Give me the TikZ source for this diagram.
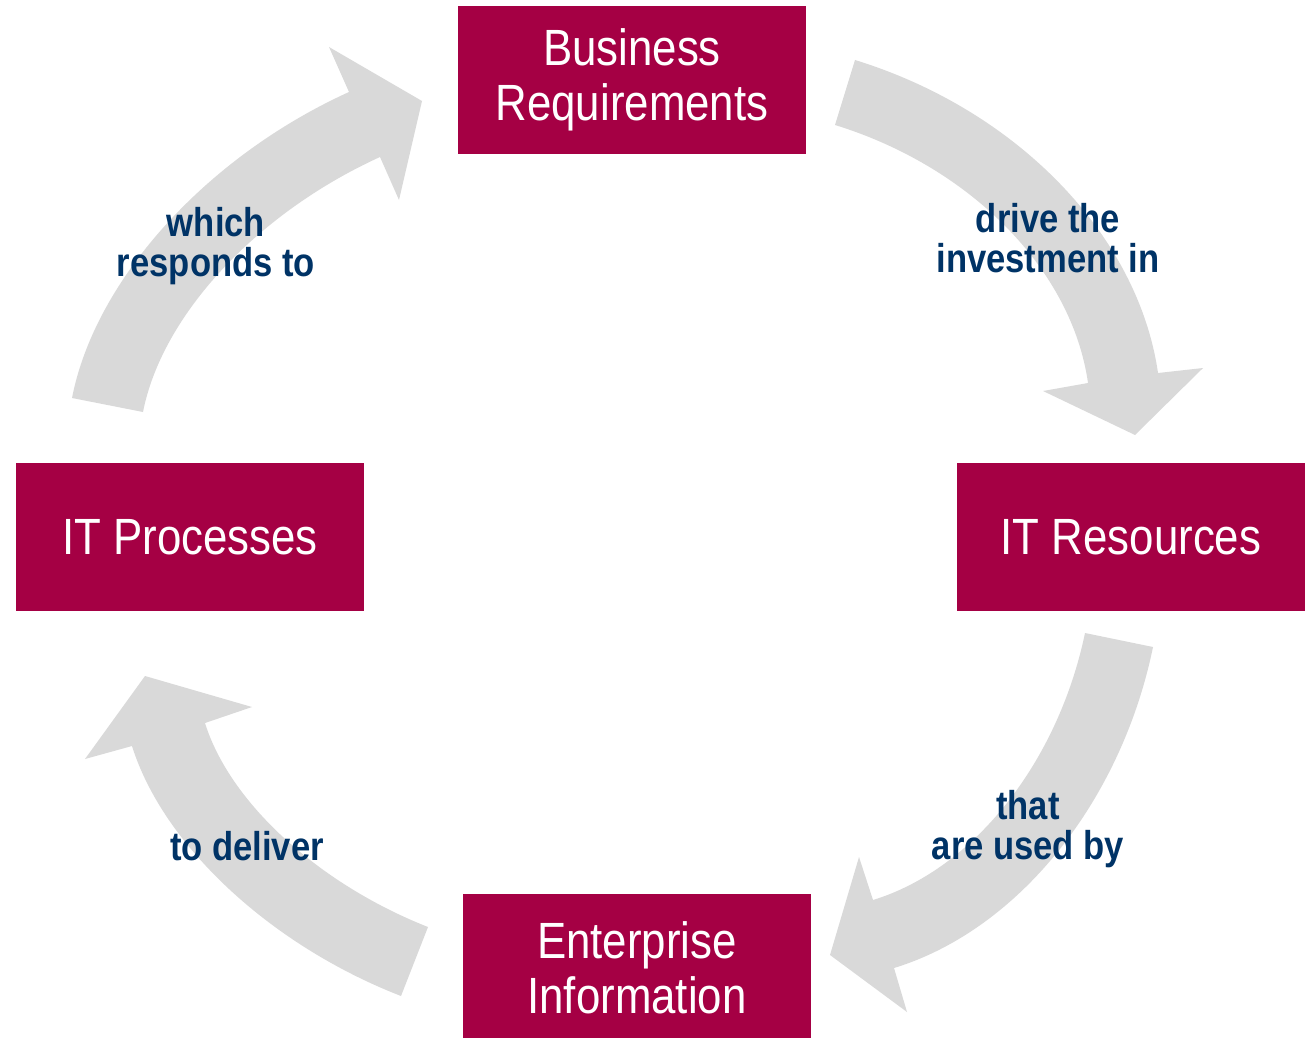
\documentclass[tikz,border=0pt]{standalone}
\usepackage{fontspec}
\setmainfont{Liberation Sans}[FakeStretch=0.86]
\usetikzlibrary{positioning}
\definecolor{boxred}{RGB}{165,0,68}
\definecolor{arrowgray}{RGB}{217,217,217}
\definecolor{labelblue}{RGB}{0,51,102}

\begin{document}
\begin{tikzpicture}[x=0.02cm,y=-0.02cm,
  stage/.style={rectangle,fill=boxred,text=white,minimum width=6.96cm,minimum height=2.96cm,inner sep=0pt,align=center,font=\fontsize{29}{31}\selectfont},
  verb/.style={text=labelblue,inner sep=0pt,align=center,font=\fontsize{22.9}{22.8}\selectfont\bfseries}]
\useasboundingbox (0,0) rectangle (1310,1037);

\fill[arrowgray] (855,60) .. controls (1017,110) and (1138,235) .. (1158,373) -- (1203,368) -- (1135,435) -- (1043,391) -- (1088,383) .. controls (1072,270) and (971,167) .. (835,125) -- cycle;
\fill[arrowgray] (1153,647) .. controls (1121,802) and (1018,930) .. (894,968) -- (907,1012) -- (830,955) -- (859,857) -- (873,900) .. controls (974,869) and (1058,762) .. (1085,633) -- cycle;
\fill[arrowgray] (401,996) .. controls (270,945) and (163,845) .. (132,746) -- (85,759) -- (145,676) -- (252,707) -- (205,723) .. controls (230,803) and (319,884) .. (428,927) -- cycle;
\fill[arrowgray] (72,398) .. controls (95,280) and (206,157) .. (349,92) -- (329,47) -- (422,101) -- (399,200) -- (380,157) .. controls (257,213) and (162,315) .. (143,412) -- cycle;

\node[stage] (business) at (632,80) {Business\\Requirements};
\node[stage] (resources) at (1131,537) {IT Resources};
\node[stage] (information) at (637,968) {Enterprise\\Information};
\node[stage] (processes) at (190,537) {IT Processes};

\node[verb] (drive) at (1048,238) {drive the\\investment in};
\node[verb] (used) at (1028,829) {that\\are used by};
\node[verb] (deliver) at (247,846) {to deliver};
\node[verb] (responds) at (216,246) {which\\responds to};

\end{tikzpicture}
\end{document}
